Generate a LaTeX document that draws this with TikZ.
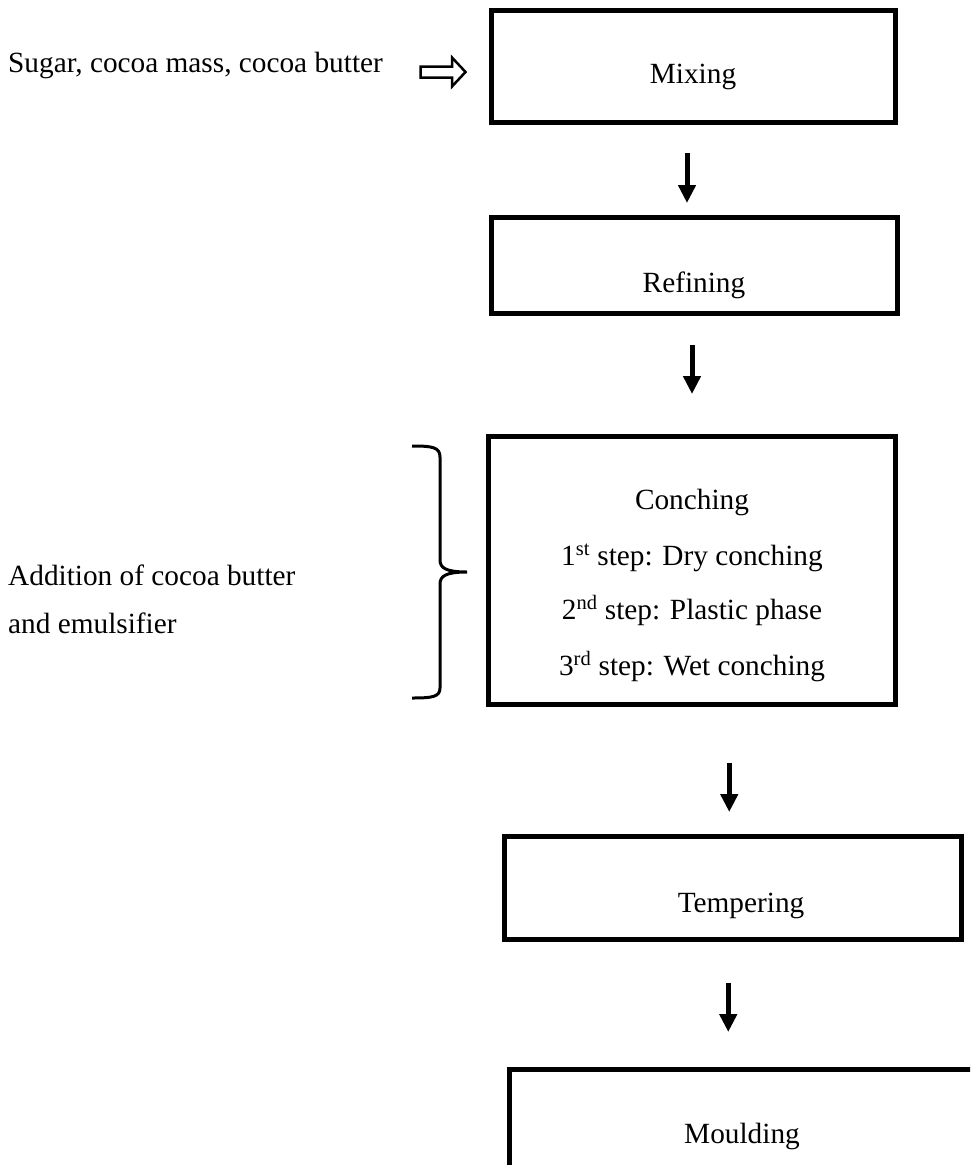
\documentclass[tikz,border=0pt]{standalone}
\usepackage{fontspec}
\setmainfont{Liberation Serif}
\usetikzlibrary{arrows.meta}

\tikzset{
  stepbox/.style={draw, line width=5pt, inner sep=0pt},
  steptext/.style={anchor=base, inner sep=0pt, font=\fontsize{29.3}{35}\selectfont},
  sidetext/.style={anchor=base west, inner sep=0pt, font=\fontsize{29.3}{35}\selectfont},
  flowarrow/.style={line width=5pt, -{Triangle[length=18pt,width=17pt]}}
}

\begin{document}
\begin{tikzpicture}[x=1pt,y=-1pt]
    \useasboundingbox (0,0) rectangle (970,1165);
    \clip (0,0) rectangle (970,1165);
    % process boxes
    \node[stepbox, minimum width=404pt, minimum height=112pt] (mix) at (693.5,66) {};
    \node[stepbox, minimum width=406pt, minimum height=96pt] (refine) at (694.5,265) {};
    \node[stepbox, minimum width=407pt, minimum height=268pt] (conch) at (692,570.5) {};
    \node[stepbox, minimum width=457.5pt, minimum height=102.5pt] (temper) at (732.75,887.75) {};
    \node[stepbox, minimum width=480pt, minimum height=140pt] (mould) at (749.5,1139.5) {};
    % box texts
    \node[steptext] (mixtext) at (693,83) {Mixing};
    \node[steptext] (refinetext) at (694,292) {Refining};
    \node[steptext] (conchtext) at (692,509) {Conching};
    \node[steptext] (conchone) at (692,565) {1\textsuperscript{st} step: Dry conching};
    \node[steptext] (conchtwo) at (692,619) {2\textsuperscript{nd} step: Plastic phase};
    \node[steptext] (conchthree) at (692,675) {3\textsuperscript{rd} step: Wet conching};
    \node[steptext] (tempertext) at (741,912) {Tempering};
    \node[steptext] (mouldtext) at (742,1143) {Moulding};
    % inputs on the left
    \node[sidetext] (sugar) at (8,72) {Sugar, cocoa mass, cocoa butter};
    \node[sidetext] (addition) at (8,585) {Addition of cocoa butter};
    \node[sidetext] (emulsifier) at (8,633) {and emulsifier};
    % hollow input arrow
    \draw[line width=2.5pt, line join=miter, fill=white]
      (420.5,66.5) -- (452,66.5) -- (452,57.5) -- (465.5,72) -- (452,86.5)
      -- (452,77.5) -- (420.5,77.5) -- cycle;
    % brace
    \draw[line width=3pt]
      (412,446) .. controls (432,446) and (440,447) .. (440,457) -- (440,560)
      .. controls (440,568) and (446,572) .. (467,572)
      .. controls (446,572) and (440,576) .. (440,584) -- (440,688)
      .. controls (440,697) and (432,698) .. (412,698);
    % flow arrows
    \draw[flowarrow, shorten <=28.5pt, shorten >=11.5pt]
      ([xshift=-6.5pt]mix.south) -- ([xshift=-7.5pt]refine.north);
    \draw[flowarrow, shorten <=29.5pt, shorten >=40pt]
      (refine.south -| conch.north) -- (conch.north);
    \draw[flowarrow, shorten <=56pt, shorten >=22pt]
      ([xshift=-3.5pt]conch.south -| temper.north) -- ([xshift=-3.5pt]temper.north);
    \draw[flowarrow, shorten <=41.5pt, shorten >=35pt]
      ([xshift=-4.5pt]temper.south) -- ([xshift=-4.5pt]temper.south |- mould.north);
\end{tikzpicture}
\end{document}
